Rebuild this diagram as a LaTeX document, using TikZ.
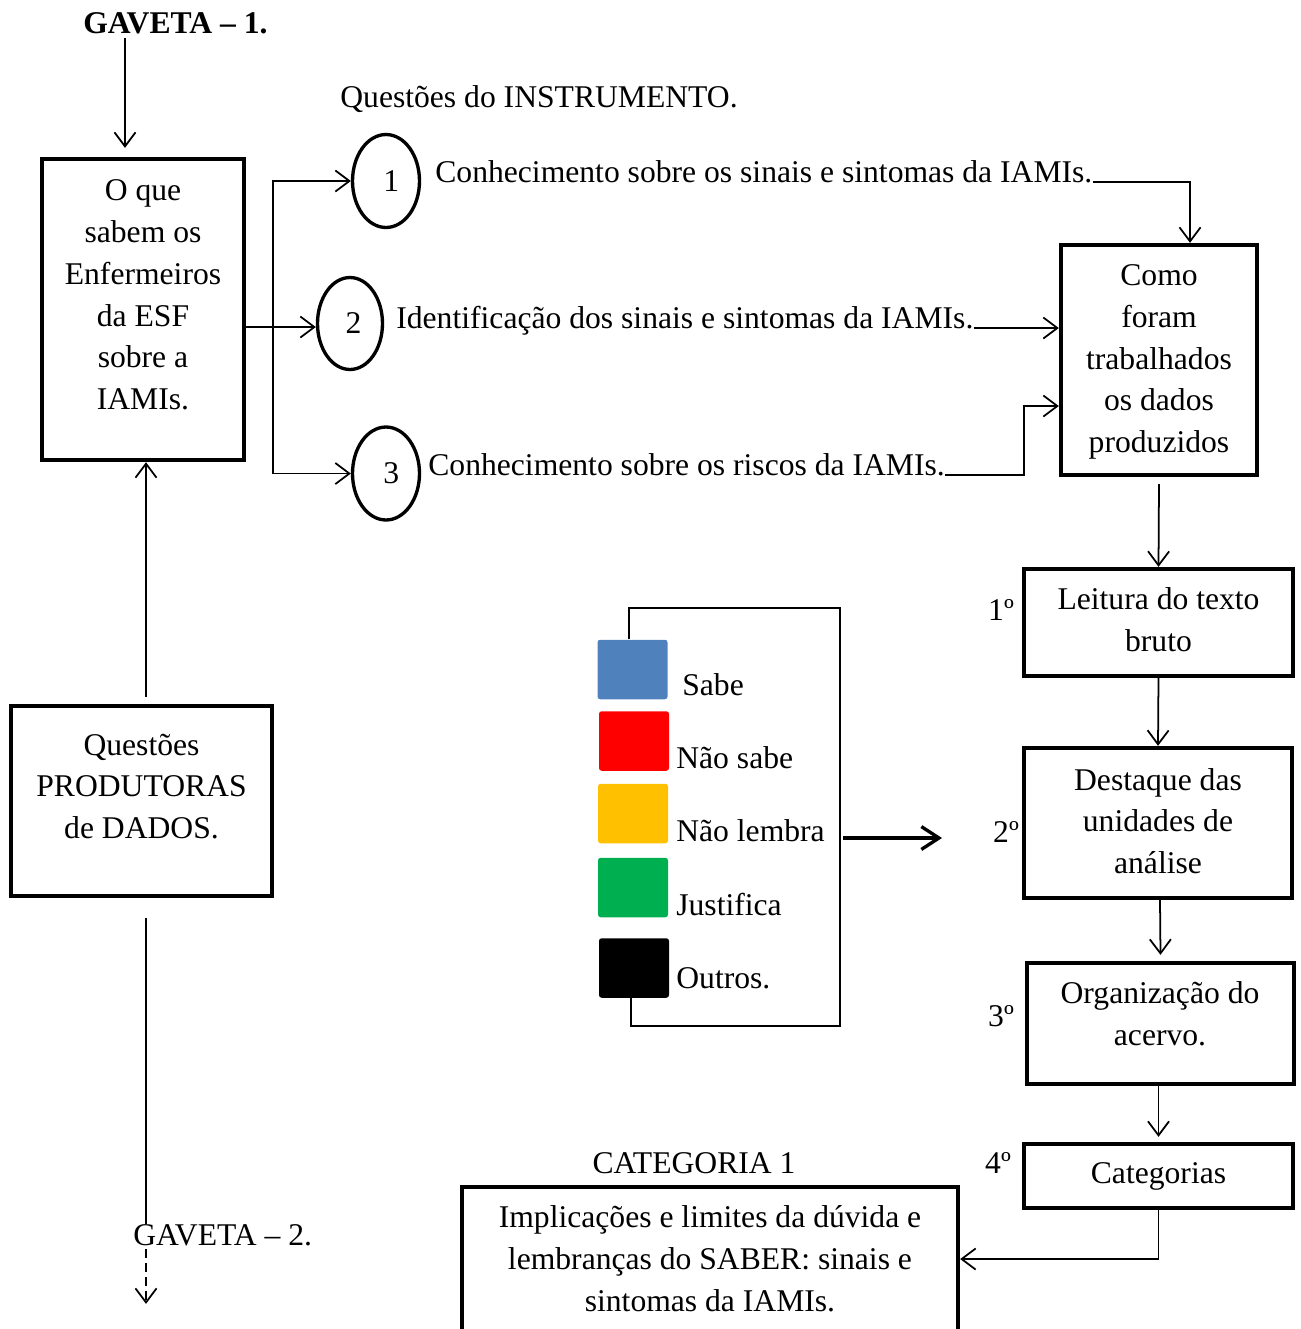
\documentclass[tikz,border=0pt]{standalone}
\usepackage{fontspec}
\setmainfont{Liberation Serif}
\usetikzlibrary{arrows.meta,shapes.geometric,calc}
\definecolor{sabeblue}{HTML}{4F81BD}
\definecolor{naored}{HTML}{FF0000}
\definecolor{lembraorange}{HTML}{FFC000}
\definecolor{justgreen}{HTML}{00B050}
\begin{document}
\begin{tikzpicture}[x=0.02cm,y=-0.02cm,
  every node/.style={font=\fontsize{18}{23.8}\selectfont, inner sep=0pt},
  box/.style={draw, line width=2.5pt, rectangle, align=center},
  ell/.style={draw, ellipse, line width=1.9pt, minimum width=1.34cm, minimum height=1.86cm},
  arr/.style={line width=1pt, -{Straight Barb[length=8pt,width=12pt]}},
  txt/.style={anchor=base west},
  sq/.style={rectangle, rounded corners=1.5pt, minimum width=1.4cm, minimum height=1.19cm},
  thinline/.style={line width=0.9pt}]
\useasboundingbox (0,0) rectangle (1301,1329);

% top
\node[font=\bfseries\fontsize{18}{23.8}\selectfont, anchor=base west] (g1) at (83,33) {GAVETA – 1.};
\node[txt] (qi) at (340,107) {Questões do INSTRUMENTO.};

% box 1
\node[box, minimum width=4.04cm, minimum height=6.02cm] (box1) at (143,309.5) {};
\node[align=center] (box1t) at (143,295) {O que\\sabem os\\Enfermeiros\\da ESF\\sobre a\\IAMIs.};
\coordinate (a1) at (125,38);
\draw[arr] (a1) -- ($(a1 |- box1.north)+(0,-9)$);

% circles
\node[ell] (c1) at (386,181) {\hspace*{6pt}1};
\node[ell, minimum width=1.3cm, minimum height=1.84cm] (c2) at (350,323.5) {\hspace*{4pt}2};
\node[ell] (c3) at (386,473.5) {\hspace*{6pt}3};

\coordinate (fork) at (273,327);
\draw[arr] (box1.east |- fork) -- (fork -| c2.west);
\draw[arr] (fork) |- (c1.west);
\draw[arr] (fork) |- (c3.west);

% question texts
\node[txt] (t1) at (435,182) {Conhecimento sobre os sinais e sintomas da IAMIs.};
\node[txt] (t2) at (396,328) {Identificação dos sinais e sintomas da IAMIs.};
\node[txt] (t3) at (428,475) {Conhecimento sobre os riscos da IAMIs.};

% box 2
\node[box, minimum width=3.92cm, minimum height=4.6cm] (box2) at (1159,360) {};
\node[align=center] (box2t) at (1159,362) {Como\\foram\\trabalhados\\os dados\\produzidos};

\draw[arr] (t1.base east) -| ($(box2.north)+(31,0)$);
\draw[arr] (t2.base east) -- (t2.base east -| box2.west);
\coordinate (k3) at (1024,406);
\draw[arr] (t3.base east) -| (k3) -- (k3 -| box2.west);

% steps
\node[box, minimum width=5.38cm, minimum height=2.14cm] (leit) at (1158.5,622.5) {};
\node[align=center] (leitt) at (1158.5,620) {Leitura do texto\\bruto};
\node[box, minimum width=5.36cm, minimum height=3cm] (dest) at (1158,823) {};
\node[align=center] (destt) at (1158,821) {Destaque das\\unidades de\\análise};
\node[box, minimum width=5.34cm, minimum height=2.42cm] (org) at (1160.5,1023.5) {};
\node[align=center] (orgt) at (1160,1014) {Organização do\\acervo.};
\node[box, minimum width=5.38cm, minimum height=1.28cm] (cat) at (1158.5,1176) {Categorias};
\node[box, minimum width=9.92cm, minimum height=2.88cm] (impl) at (710,1259) {Implicações e limites da dúvida e\\lembranças do SABER: sinais e\\sintomas da IAMIs.};

\node (n1) at (1001,610) {1º};
\node (n2) at (1006,832) {2º};
\node (n3) at (1001,1016) {3º};
\node (n4) at (998,1163) {4º};
\node (cat1) at (694,1163) {CATEGORIA 1};

\draw[arr] ($(box2.south)+(0,7)$) -- (leit.north);
\draw[arr] (leit.south) -- (dest.north);
\draw[arr] ($(dest.south)+(2,0)$) -- ($(org.north)+(0,-6)$);
\draw[arr] (org.south -| cat.north) -- ($(cat.north)+(0,-5)$);
\draw[arr] (cat.south) |- (impl.east);

% producing questions
\node[box, minimum width=5.22cm, minimum height=3.8cm] (prod) at (141.5,801) {};
\node[align=center] (prodt) at (141.5,786.5) {Questões\\PRODUTORAS\\de DADOS.};
\coordinate (p1) at (146,697);
\draw[arr] (p1) -- (p1 |- box1.south);

\coordinate (p2) at (146,918);
\node[txt] (g2) at (133,1245) {GAVETA – 2.};
\draw[line width=1pt] (p2) -- (p2 |- g2.north);
\draw[arr, dash pattern=on 5pt off 3pt] ($(p2 |- g2.south)+(0,3)$) -- ++(0,55);

% legend
\node[sq, fill=sabeblue] (s1) at (632.5,669.5) {};
\node[sq, fill=naored] (s2) at (634,741) {};
\node[sq, fill=lembraorange] (s3) at (633,813.5) {};
\node[sq, fill=justgreen] (s4) at (633,887.5) {};
\node[sq, fill=black] (s5) at (634,968) {};
\node[txt] (l1) at (682,695) {Sabe};
\node[txt] (l2) at (676,768) {Não sabe};
\node[txt] (l3) at (676,841) {Não lembra};
\node[txt] (l4) at (676,915) {Justifica};
\node[txt] (l5) at (676,988) {Outros.};

\coordinate (bt) at (840,608);
\coordinate (bb) at (840,1026);
\draw[thinline] ($(s1.north)+(-3.5,0)$) |- (bt) -- (bb) -| ($(s5.south)+(-3,0)$);

\coordinate (la) at (843,838);
\coordinate (lb) at (942,838);
\draw[line width=1.9pt, -{Straight Barb[length=10pt,width=13pt]}] (la) -- (lb);
\end{tikzpicture}
\end{document}
